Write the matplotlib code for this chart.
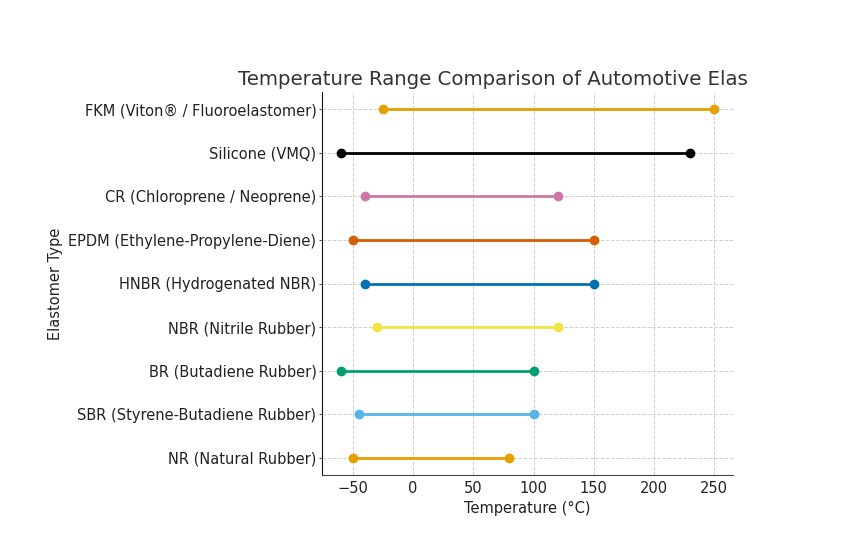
import matplotlib
matplotlib.use("Agg")
import matplotlib.pyplot as plt
from matplotlib.transforms import Bbox

elastomers = [
    "NR (Natural Rubber)",
    "SBR (Styrene-Butadiene Rubber)",
    "BR (Butadiene Rubber)",
    "NBR (Nitrile Rubber)",
    "HNBR (Hydrogenated NBR)",
    "EPDM (Ethylene-Propylene-Diene)",
    "CR (Chloroprene / Neoprene)",
    "Silicone (VMQ)",
    "FKM (Viton® / Fluoroelastomer)",
]
min_temp = [-50, -45, -60, -30, -40, -50, -40, -60, -25]
max_temp = [80, 100, 100, 120, 150, 150, 120, 230, 250]
colors = ["#E69F00", "#56B4E9", "#009E73", "#F0E442", "#0072B2",
          "#D55E00", "#CC79A7", "#000000", "#E69F00"]

fig = plt.figure(figsize=(8.64, 5.38), dpi=100)
ax = fig.add_axes([322 / 864, 1 - 475 / 538, (733 - 322) / 864, (475 - 92) / 538])

for i, (lo, hi) in enumerate(zip(min_temp, max_temp)):
    ax.plot([lo, hi], [i, i], color=colors[i], lw=2, marker="o", ms=6, zorder=3)

ax.set_yticks(range(len(elastomers)))
ax.set_yticklabels(elastomers, fontsize=10.5, color="#222222")
ax.set_xticks([-50, 0, 50, 100, 150, 200, 250])
ax.set_xticklabels(["\u221250", "0", "50", "100", "150", "200", "250"])
ax.tick_params(axis="x", labelsize=10.5, labelcolor="#222222", direction="in", length=0, pad=4)
ax.tick_params(axis="y", length=2, pad=2, color="#555555")
ax.set_xlabel("Temperature (\u00b0C)", fontsize=10.5, color="#222222", labelpad=4)
ax.set_ylabel("Elastomer Type", fontsize=10.5, color="#222222")
ax.grid(True, linestyle="--", color="#d0d0d0", lw=0.7)
ax.set_axisbelow(True)
for s in ["top", "right"]:
    ax.spines[s].set_visible(False)
ax.spines["left"].set_color("#111111")
ax.spines["bottom"].set_color("#444444")

title = ax.set_title("Temperature Range Comparison of Automotive Elastomers",
                     fontsize=14.2, color="#333333", pad=5)
clip = Bbox.from_extents(0, 0, 748, 538)
title.set_clip_box(clip)
title.set_clip_on(True)

fig.savefig("out.png", dpi=100)
